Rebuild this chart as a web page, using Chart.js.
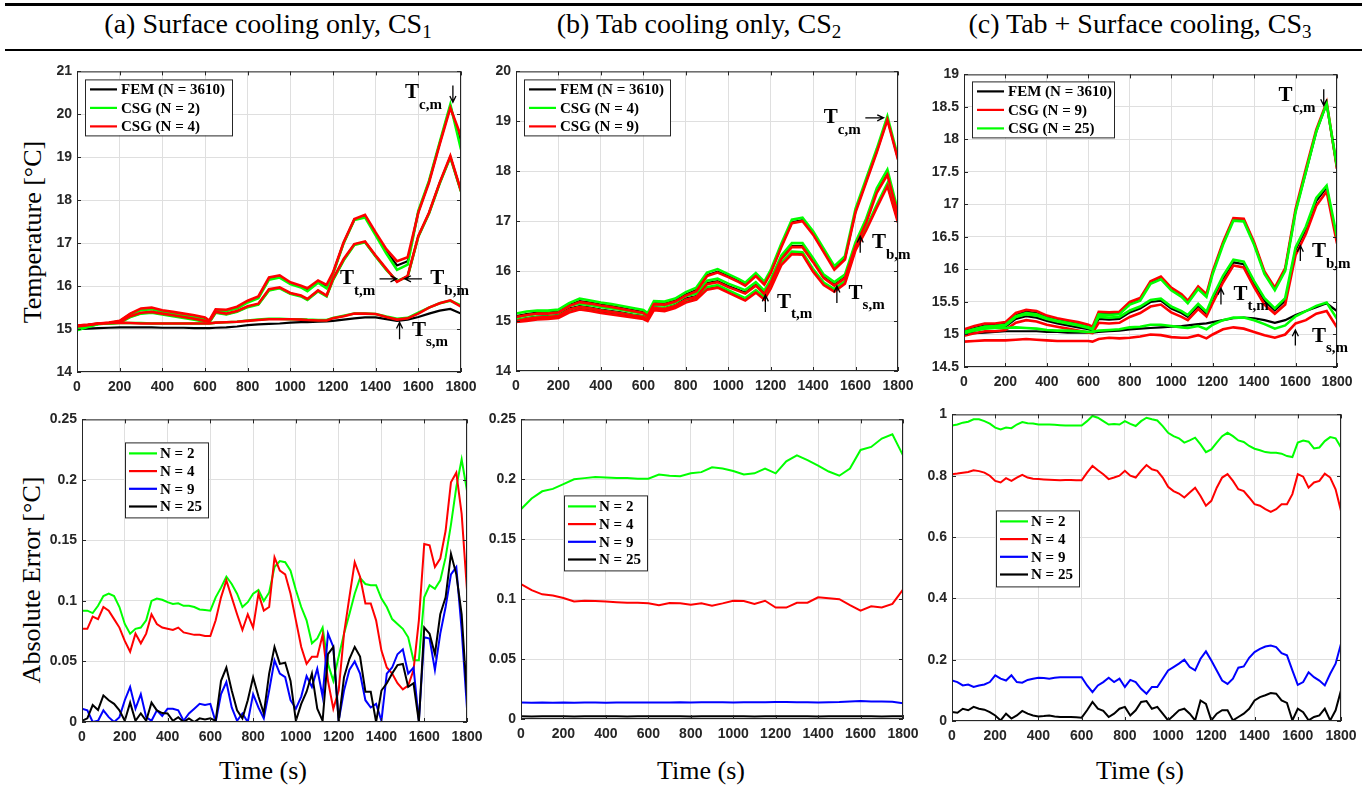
<!DOCTYPE html>
<html lang="en">
<head>
<meta charset="UTF-8">
<title>CSG vs FEM temperatures and absolute error</title>
<script src="https://cdn.jsdelivr.net/npm/chart.js@4.4.1/dist/chart.umd.min.js"></script>
<style>
    body { margin: 0; background: #fff; width: 1367px; height: 790px; position: relative; overflow: hidden;
           font-family: "Liberation Serif", "Times New Roman", serif; color: #000; }
    canvas { position: absolute; }
    .rule { position: absolute; left: 5px; width: 1357px; background: #000; }
    .ttl { position: absolute; top: 10px; font-size: 28px; line-height: 1; white-space: nowrap; transform: translateX(-50%); }
    .ttl span { font-size: 19px; position: relative; top: 5px; }
    .ylab { position: absolute; font-size: 26px; line-height: 1; white-space: nowrap; transform: translate(-50%, -50%) rotate(-90deg); }
    .xlab { position: absolute; top: 758px; font-size: 26px; line-height: 1; white-space: nowrap; transform: translateX(-50%); }
</style>
</head>
<body>
<div class="rule" style="top:3px;height:3px"></div>
<div class="rule" style="top:49px;height:2px"></div>
<div class="ttl" style="left:268px">(a) Surface cooling only, CS<span>1</span></div>
<div class="ttl" style="left:699px">(b) Tab cooling only, CS<span>2</span></div>
<div class="ttl" style="left:1140px">(c) Tab + Surface cooling, CS<span>3</span></div>
<div class="ylab" style="left:33px;top:232px">Temperature [°C]</div>
<div class="ylab" style="left:32px;top:580px">Absolute Error [°C]</div>
<div class="xlab" style="left:263px">Time (s)</div>
<div class="xlab" style="left:701px">Time (s)</div>
<div class="xlab" style="left:1140px">Time (s)</div>

<canvas id="ta"></canvas>
<canvas id="tb"></canvas>
<canvas id="tc"></canvas>
<canvas id="ea"></canvas>
<canvas id="eb"></canvas>
<canvas id="ec"></canvas>

<script>
// ---- time axes (s) ----
const tT = [0, 50, 100, 150, 200, 250, 300, 350, 400, 450, 500, 550, 600, 620, 650, 700, 750, 800, 850, 900,
            950, 1000, 1050, 1080, 1130, 1170, 1200, 1250, 1300, 1350, 1400, 1450, 1500, 1550, 1600, 1650, 1700, 1750, 1800];
const tE = [0, 25, 50, 75, 100, 125, 150, 175, 200, 225, 250, 275, 300, 325, 350, 375, 400, 425, 450, 475,
            500, 525, 550, 575, 600, 625, 650, 675, 700, 725, 750, 775, 800, 825, 850, 875, 900, 925, 950, 975,
            1000, 1025, 1050, 1075, 1100, 1125, 1150, 1175, 1200, 1225, 1250, 1275, 1300, 1325, 1350, 1375,
            1400, 1425, 1450, 1475, 1500, 1525, 1550, 1575, 1600, 1625, 1650, 1675, 1700, 1725, 1750, 1775, 1800];
const tE50 = [0, 50, 100, 150, 200, 250, 300, 350, 400, 450, 500, 550, 600, 650, 700, 750, 800, 850, 900,
              950, 1000, 1050, 1100, 1150, 1200, 1250, 1300, 1350, 1400, 1450, 1500, 1550, 1600, 1650, 1700, 1750, 1800];

// ---- (a) surface cooling, temperatures (°C) ----
const aCoreFem  = [15.04,15.08,15.12,15.14,15.18,15.35,15.46,15.48,15.42,15.38,15.34,15.30,15.25,15.18,15.44,15.43,15.50,15.64,15.74,16.18,16.23,16.07,15.99,15.92,16.10,16.00,16.30,17.01,17.55,17.63,17.22,16.81,16.48,16.58,17.73,18.43,19.32,20.19,19.35];
const aCoreN2   = [15.00,15.06,15.12,15.14,15.18,15.34,15.44,15.46,15.40,15.36,15.32,15.28,15.22,15.17,15.42,15.42,15.48,15.62,15.72,16.15,16.20,16.05,15.97,15.88,16.08,15.95,16.28,17.00,17.54,17.60,17.18,16.76,16.38,16.50,17.75,18.45,19.35,20.23,19.18];
const aCoreN4   = [15.08,15.10,15.13,15.15,15.19,15.36,15.48,15.50,15.44,15.40,15.36,15.32,15.27,15.20,15.46,15.45,15.52,15.66,15.76,16.20,16.25,16.09,16.01,15.95,16.13,16.03,16.32,17.02,17.56,17.66,17.25,16.86,16.58,16.67,17.71,18.41,19.30,20.15,19.49];
const aMidFem   = [15.05,15.09,15.12,15.13,15.15,15.29,15.37,15.39,15.35,15.31,15.27,15.23,15.18,15.16,15.39,15.35,15.41,15.52,15.58,15.91,15.96,15.83,15.77,15.69,15.89,15.77,16.15,16.61,16.97,17.03,16.70,16.39,16.11,16.23,17.16,17.70,18.40,19.01,18.21];
const aMidN2    = [15.03,15.08,15.12,15.13,15.15,15.28,15.36,15.38,15.34,15.30,15.26,15.22,15.17,15.15,15.38,15.34,15.40,15.51,15.57,15.90,15.95,15.82,15.76,15.68,15.88,15.76,16.14,16.60,16.96,17.02,16.69,16.38,16.12,16.22,17.15,17.69,18.39,19.00,18.20];
const aMidN4    = [15.08,15.10,15.13,15.14,15.16,15.30,15.38,15.40,15.36,15.32,15.28,15.24,15.19,15.17,15.40,15.36,15.42,15.53,15.59,15.93,15.97,15.84,15.78,15.70,15.90,15.78,16.17,16.63,16.98,17.04,16.71,16.40,16.10,16.24,17.17,17.71,18.41,19.03,18.22];
const aSurfFem  = [15.00,15.01,15.02,15.03,15.04,15.04,15.04,15.04,15.03,15.03,15.03,15.02,15.02,15.02,15.03,15.04,15.06,15.09,15.11,15.12,15.13,15.15,15.16,15.16,15.17,15.18,15.19,15.22,15.25,15.27,15.27,15.23,15.19,15.22,15.28,15.36,15.43,15.47,15.36];
const aSurfN2   = [14.97,15.05,15.12,15.13,15.14,15.14,15.14,15.13,15.13,15.13,15.13,15.13,15.13,15.13,15.15,15.16,15.17,15.20,15.22,15.24,15.24,15.23,15.23,15.22,15.21,15.21,15.26,15.31,15.36,15.36,15.35,15.29,15.24,15.26,15.38,15.50,15.60,15.66,15.55];
const aSurfN4   = [15.06,15.09,15.13,15.14,15.15,15.14,15.13,15.13,15.13,15.13,15.13,15.13,15.13,15.13,15.15,15.16,15.17,15.19,15.21,15.23,15.23,15.23,15.22,15.21,15.20,15.20,15.25,15.30,15.36,15.36,15.35,15.28,15.22,15.25,15.36,15.50,15.60,15.67,15.52];

// ---- (b) tab cooling, temperatures (°C) ----
const bCoreFem  = [15.10,15.14,15.17,15.17,15.19,15.32,15.40,15.37,15.33,15.30,15.26,15.22,15.18,15.12,15.36,15.35,15.41,15.53,15.62,15.92,15.99,15.90,15.80,15.73,15.92,15.75,15.98,16.50,16.98,17.02,16.75,16.40,16.05,16.25,17.20,17.80,18.40,19.05,18.25];
const bCoreN4   = [15.15,15.19,15.21,15.21,15.23,15.36,15.45,15.41,15.37,15.34,15.30,15.26,15.22,15.16,15.40,15.39,15.45,15.58,15.67,15.97,16.04,15.94,15.84,15.77,15.96,15.79,16.02,16.55,17.03,17.07,16.80,16.45,16.10,16.30,17.25,17.85,18.45,19.10,18.28];
const bCoreN9   = [15.08,15.12,15.15,15.15,15.17,15.30,15.38,15.35,15.31,15.28,15.24,15.20,15.16,15.10,15.34,15.33,15.39,15.51,15.60,15.90,15.97,15.88,15.78,15.71,15.90,15.73,15.96,16.48,16.96,17.00,16.73,16.38,16.03,16.23,17.18,17.78,18.38,19.03,18.23];
const bMidFem   = [15.02,15.06,15.09,15.10,15.12,15.25,15.30,15.27,15.23,15.20,15.17,15.13,15.10,15.06,15.28,15.26,15.32,15.45,15.50,15.76,15.80,15.70,15.62,15.57,15.73,15.56,15.78,16.26,16.50,16.50,16.20,15.88,15.73,15.88,16.52,17.00,17.60,17.96,17.15];
const bMidN4    = [15.07,15.11,15.14,15.15,15.17,15.30,15.35,15.32,15.28,15.25,15.22,15.18,15.15,15.11,15.33,15.31,15.37,15.50,15.55,15.81,15.85,15.75,15.67,15.62,15.78,15.61,15.83,16.31,16.56,16.56,16.26,15.93,15.78,15.93,16.58,17.05,17.66,18.03,17.20];
const bMidN9    = [15.00,15.04,15.07,15.08,15.10,15.23,15.28,15.25,15.21,15.18,15.15,15.11,15.08,15.04,15.26,15.24,15.30,15.43,15.48,15.74,15.78,15.68,15.60,15.55,15.71,15.54,15.76,16.24,16.48,16.48,16.18,15.86,15.71,15.86,16.50,16.97,17.57,17.93,17.12];
const bLowFem   = [15.00,15.03,15.06,15.07,15.09,15.20,15.26,15.23,15.19,15.16,15.13,15.10,15.07,15.03,15.25,15.23,15.29,15.40,15.46,15.66,15.70,15.60,15.50,15.44,15.60,15.46,15.68,16.15,16.37,16.36,16.02,15.75,15.62,15.78,16.45,16.85,17.30,17.73,17.00];
const bLowN4    = [15.02,15.05,15.08,15.09,15.11,15.22,15.28,15.25,15.21,15.18,15.15,15.12,15.09,15.05,15.27,15.25,15.31,15.42,15.48,15.68,15.72,15.62,15.52,15.46,15.62,15.48,15.70,16.17,16.39,16.38,16.04,15.77,15.64,15.80,16.47,16.87,17.33,17.76,17.03];
const bLowN9    = [14.98,15.00,15.03,15.04,15.06,15.17,15.23,15.20,15.16,15.13,15.10,15.07,15.04,15.00,15.22,15.20,15.26,15.37,15.43,15.63,15.67,15.57,15.47,15.41,15.57,15.43,15.65,16.12,16.34,16.33,15.99,15.72,15.59,15.75,16.42,16.82,17.27,17.70,16.97];

// ---- (c) tab + surface cooling, temperatures (°C) ----
const cCoreFem  = [15.05,15.10,15.14,15.15,15.17,15.30,15.35,15.33,15.27,15.23,15.20,15.17,15.13,15.10,15.33,15.32,15.33,15.48,15.54,15.80,15.87,15.70,15.60,15.50,15.72,15.60,15.95,16.40,16.77,16.76,16.40,15.95,15.70,16.00,16.90,17.50,18.12,18.55,17.55];
const cCoreN9   = [15.08,15.13,15.17,15.17,15.19,15.33,15.38,15.36,15.29,15.25,15.22,15.19,15.15,15.12,15.35,15.34,15.35,15.50,15.56,15.82,15.89,15.72,15.62,15.52,15.74,15.62,15.97,16.42,16.79,16.78,16.42,15.97,15.72,16.02,16.93,17.55,18.15,18.57,17.55];
const cCoreN25  = [15.03,15.08,15.12,15.13,15.15,15.28,15.33,15.31,15.25,15.21,15.18,15.15,15.11,15.08,15.31,15.30,15.31,15.46,15.52,15.78,15.85,15.68,15.58,15.48,15.70,15.58,15.93,16.38,16.75,16.74,16.38,15.93,15.68,15.98,16.88,17.50,18.12,18.55,17.58];
const cMidFem   = [15.02,15.06,15.10,15.10,15.12,15.24,15.28,15.26,15.21,15.17,15.14,15.11,15.08,15.06,15.24,15.23,15.24,15.34,15.40,15.50,15.52,15.40,15.33,15.27,15.44,15.32,15.55,15.86,16.11,16.08,15.78,15.52,15.37,15.52,16.30,16.62,17.05,17.26,16.45];
const cMidN9    = [14.98,15.02,15.05,15.05,15.07,15.18,15.22,15.20,15.15,15.12,15.09,15.06,15.03,15.02,15.18,15.17,15.18,15.27,15.33,15.43,15.46,15.34,15.27,15.22,15.39,15.28,15.48,15.80,16.06,16.03,15.73,15.46,15.32,15.46,16.22,16.55,16.98,17.20,16.40];
const cMidN25   = [15.04,15.08,15.12,15.12,15.14,15.27,15.31,15.29,15.24,15.20,15.17,15.14,15.10,15.08,15.27,15.26,15.27,15.37,15.43,15.53,15.55,15.43,15.36,15.30,15.47,15.35,15.58,15.90,16.15,16.12,15.82,15.56,15.40,15.56,16.34,16.66,17.10,17.29,16.50];
const cSurfFem  = [15.02,15.02,15.03,15.04,15.05,15.05,15.05,15.05,15.04,15.04,15.03,15.03,15.03,15.03,15.04,15.05,15.06,15.08,15.09,15.10,15.11,15.12,15.13,15.14,15.16,15.17,15.19,15.22,15.25,15.26,15.25,15.22,15.18,15.22,15.30,15.36,15.42,15.48,15.36];
const cSurfN9   = [14.89,14.90,14.91,14.91,14.91,14.92,14.93,14.92,14.91,14.90,14.90,14.90,14.90,14.89,14.93,14.95,14.94,14.95,14.97,15.00,14.99,14.96,14.95,14.95,14.99,14.94,15.00,15.08,15.11,15.09,15.04,14.99,14.95,15.00,15.17,15.22,15.32,15.36,15.11];
const cSurfN25  = [15.02,15.06,15.09,15.10,15.10,15.11,15.10,15.09,15.07,15.06,15.06,15.05,15.04,15.04,15.06,15.07,15.08,15.11,15.12,15.15,15.15,15.13,15.11,15.10,15.13,15.08,15.15,15.22,15.26,15.26,15.22,15.16,15.09,15.14,15.28,15.36,15.44,15.49,15.24];

// ---- absolute errors (°C) ----
const eaN2  = [0.092,0.092,0.090,0.096,0.104,0.106,0.104,0.095, 0.081,0.073,0.077,0.078,0.084,0.100,0.102,0.101, 0.099,0.0975,0.098,0.096,0.096,0.095,0.093,0.0925, 0.092,0.103,0.111,0.120,0.114,0.106,0.095,0.099, 0.106,0.109,0.100,0.107,0.128,0.133,0.132,0.125, 0.109,0.095,0.084,0.065,0.069,0.078,0.048,0.034, 0.054,0.073,0.089,0.106,0.119,0.114,0.113,0.113, 0.102,0.095,0.085,0.081,0.077,0.070,0.051,0.051, 0.103,0.113,0.110,0.117,0.136,0.163,0.194,0.217, 0.191];
const eaN4  = [0.077,0.077,0.087,0.085,0.095,0.092,0.085,0.078, 0.067,0.058,0.073,0.065,0.073,0.089,0.081,0.078, 0.077,0.076,0.078,0.074,0.073,0.072,0.072,0.071, 0.071,0.084,0.103,0.117,0.103,0.089,0.076,0.089, 0.078,0.106,0.092,0.095,0.136,0.125,0.122,0.106, 0.084,0.062,0.048,0.054,0.054,0.072,0.034,0.011, 0.026,0.073,0.103,0.132,0.120,0.098,0.098,0.084, 0.059,0.045,0.040,0.032,0.027,0.030,0.043,0.084, 0.147,0.146,0.128,0.135,0.158,0.198,0.206,0.172, 0.109];
const eaN9  = [0.011,0.0096,0.000,0.001,0.0096,0.004,0.000,0.004, 0.018,0.029,0.011,0.023,0.004,0.001,0.0096,0.005, 0.011,0.011,0.0096,0.001,0.007,0.011,0.015,0.014, 0.015,0.000,0.023,0.033,0.012,0.001,0.007,0.000, 0.023,0.012,0.003,0.026,0.051,0.040,0.037,0.018, 0.011,0.021,0.038,0.029,0.044,0.021,0.073,0.062, 0.001,0.026,0.043,0.050,0.040,0.018,0.012,0.015, 0.001,0.040,0.045,0.056,0.060,0.040,0.045,0.001, 0.070,0.069,0.043,0.073,0.095,0.122,0.128,0.076, 0.011];
const eaN25 = [0.001,0.003,0.014,0.010,0.022,0.018,0.015,0.0096, 0.001,0.016,0.001,0.007,0.001,0.016,0.0096,0.0074, 0.007,0.001,0.004,0.000,0.003,0.000,0.003,0.002, 0.003,0.001,0.034,0.045,0.026,0.0096,0.003,0.018, 0.037,0.021,0.007,0.040,0.062,0.048,0.049,0.034, 0.001,0.015,0.025,0.040,0.011,0.001,0.056,0.062, 0.000,0.037,0.052,0.062,0.054,0.025,0.025,0.000, 0.026,0.032,0.040,0.047,0.048,0.029,0.032,0.000, 0.078,0.073,0.056,0.089,0.103,0.139,0.122,0.089, 0.021];

const ebN2  = [0.175,0.184,0.190,0.192,0.196,0.200,0.201,0.202,0.2015,0.201,0.201,0.2005,0.2005,0.204,0.203,0.2025,0.205,0.206,0.210,0.209,0.207,0.204,0.205,0.209,0.205,0.215,0.220,0.216,0.2115,0.2065,0.203,0.209,0.2245,0.227,0.234,0.2375,0.220];
const ebN4  = [0.1125,0.1075,0.104,0.103,0.101,0.098,0.0987,0.0985,0.098,0.0975,0.097,0.097,0.0965,0.095,0.0968,0.0965,0.0954,0.0965,0.0946,0.0965,0.0987,0.0985,0.096,0.0987,0.093,0.093,0.097,0.097,0.1015,0.1008,0.100,0.095,0.0904,0.094,0.093,0.096,0.108];
const ebN9  = [0.0138,0.0135,0.0137,0.0136,0.0138,0.0136,0.0137,0.0138,0.0136,0.0137,0.0138,0.0137,0.0138,0.0137,0.0138,0.0139,0.0138,0.0139,0.0140,0.0139,0.0138,0.0139,0.0140,0.0139,0.0141,0.0142,0.0140,0.0139,0.0138,0.0139,0.0141,0.0145,0.0150,0.0145,0.0146,0.0144,0.0132];
const ebN25 = [0.0022,0.0021,0.0023,0.0022,0.0022,0.0021,0.0022,0.0023,0.0022,0.0022,0.0021,0.0022,0.0022,0.0023,0.0022,0.0022,0.0021,0.0022,0.0022,0.0023,0.0022,0.0022,0.0021,0.0022,0.0022,0.0023,0.0022,0.0022,0.0021,0.0022,0.0022,0.0023,0.0022,0.0022,0.0021,0.0022,0.0022];

const ecN2  = [0.964,0.967,0.973,0.976,0.984,0.984,0.978,0.970, 0.957,0.951,0.957,0.955,0.967,0.975,0.971,0.970, 0.967,0.967,0.967,0.966,0.965,0.964,0.964,0.964, 0.964,0.978,0.995,0.989,0.978,0.967,0.969,0.967, 0.978,0.969,0.962,0.978,0.989,0.984,0.980,0.962, 0.940,0.929,0.922,0.908,0.915,0.924,0.902,0.877, 0.886,0.908,0.929,0.940,0.929,0.915,0.910,0.897, 0.888,0.883,0.877,0.875,0.875,0.872,0.864,0.861, 0.908,0.915,0.911,0.889,0.892,0.913,0.926,0.922, 0.892];
const ecN4  = [0.805,0.807,0.810,0.812,0.818,0.815,0.810,0.800, 0.783,0.778,0.792,0.783,0.794,0.803,0.794,0.790, 0.789,0.788,0.787,0.786,0.785,0.786,0.786,0.785, 0.785,0.810,0.832,0.818,0.805,0.789,0.794,0.800, 0.816,0.800,0.794,0.816,0.835,0.821,0.816,0.794, 0.764,0.750,0.742,0.729,0.745,0.761,0.734,0.702, 0.718,0.761,0.794,0.805,0.783,0.756,0.750,0.729, 0.707,0.702,0.691,0.682,0.691,0.707,0.707,0.740, 0.805,0.797,0.761,0.778,0.783,0.807,0.794,0.756, 0.685];
const ecN9  = [0.132,0.127,0.116,0.119,0.111,0.116,0.119,0.127, 0.149,0.138,0.132,0.149,0.127,0.125,0.134,0.138, 0.141,0.140,0.138,0.141,0.143,0.143,0.143,0.143, 0.143,0.116,0.094,0.116,0.127,0.141,0.127,0.138, 0.111,0.134,0.127,0.105,0.089,0.111,0.111,0.138, 0.165,0.176,0.187,0.200,0.176,0.165,0.203,0.227, 0.197,0.165,0.132,0.121,0.138,0.174,0.178,0.206, 0.225,0.235,0.243,0.246,0.241,0.221,0.214,0.165, 0.118,0.127,0.159,0.143,0.132,0.116,0.154,0.187, 0.252];
const ecN25 = [0.029,0.027,0.040,0.035,0.046,0.040,0.037,0.029, 0.018,0.002,0.024,0.008,0.018,0.033,0.024,0.018, 0.015,0.016,0.018,0.015,0.013,0.013,0.013,0.012, 0.011,0.035,0.062,0.040,0.033,0.013,0.024,0.040, 0.046,0.018,0.035,0.062,0.065,0.040,0.046,0.024, 0.002,0.018,0.035,0.040,0.024,0.002,0.067,0.056, 0.002,0.024,0.035,0.035,0.002,0.013,0.024,0.040, 0.067,0.078,0.084,0.091,0.089,0.067,0.059,0.002, 0.040,0.029,0.002,0.013,0.018,0.040,0.002,0.035, 0.100];

// ---- legend texts ----
const legA = ['FEM (N = 3610)', 'CSG (N = 2)', 'CSG (N = 4)'];
const legB = ['FEM (N = 3610)', 'CSG (N = 4)', 'CSG (N = 9)'];
const legC = ['FEM (N = 3610)', 'CSG (N = 9)', 'CSG (N = 25)'];
const legE = ['N = 2', 'N = 4', 'N = 9', 'N = 25'];

const GREEN = '#00ff00', RED = '#ff0000', BLUE = '#0000ff', BLACK = '#000000';
const XH = 30, YW = 60, PT = 12, PR = 24;

function pts(ts, vs) { return ts.map((t, i) => ({ x: t, y: vs[i] })); }
function line(ts, vs, color, w, order) {
    return { data: pts(ts, vs), borderColor: color, borderWidth: w, pointRadius: 0, tension: 0, fill: false, order: order };
}

// box around the axes with inward ticks, like the original
const frame = {
    id: 'frame',
    afterDatasetsDraw(chart) {
        const { ctx, chartArea: a, scales: { x, y } } = chart;
        ctx.save();
        ctx.strokeStyle = '#262626';
        ctx.lineWidth = 1;
        ctx.strokeRect(a.left + 0.5, a.top + 0.5, a.right - a.left - 1, a.bottom - a.top - 1);
        ctx.beginPath();
        x.ticks.forEach(t => {
            const p = Math.round(x.getPixelForValue(t.value)) + 0.5;
            ctx.moveTo(p, a.bottom); ctx.lineTo(p, a.bottom - 4);
            ctx.moveTo(p, a.top); ctx.lineTo(p, a.top + 4);
        });
        y.ticks.forEach(t => {
            const p = Math.round(y.getPixelForValue(t.value)) + 0.5;
            ctx.moveTo(a.left, p); ctx.lineTo(a.left + 4, p);
            ctx.moveTo(a.right, p); ctx.lineTo(a.right - 4, p);
        });
        ctx.stroke();
        ctx.restore();
    }
};

// T_x,m labels with arrows, placed in data coordinates
const marks = {
    id: 'marks',
    afterDraw(chart, args, opts) {
        const { ctx, scales: { x, y } } = chart;
        (opts.items || []).forEach(m => {
            const px = x.getPixelForValue(m.t), py = y.getPixelForValue(m.v);
            ctx.save();
            ctx.fillStyle = '#000';
            ctx.textBaseline = 'middle';
            ctx.font = 'bold 21px "Liberation Serif"';
            ctx.fillText('T', px, py);
            const w = ctx.measureText('T').width;
            ctx.font = 'bold 15px "Liberation Serif"';
            ctx.fillText(m.sub, px + w, py + 12);
            const x1 = x.getPixelForValue(m.a[0]), y1 = y.getPixelForValue(m.a[1]);
            const x2 = x.getPixelForValue(m.a[2]), y2 = y.getPixelForValue(m.a[3]);
            const ang = Math.atan2(y2 - y1, x2 - x1);
            ctx.strokeStyle = '#000';
            ctx.lineWidth = 1.3;
            ctx.beginPath();
            ctx.moveTo(x1, y1); ctx.lineTo(x2, y2);
            ctx.moveTo(x2 - 7 * Math.cos(ang - 0.45), y2 - 7 * Math.sin(ang - 0.45));
            ctx.lineTo(x2, y2);
            ctx.lineTo(x2 - 7 * Math.cos(ang + 0.45), y2 - 7 * Math.sin(ang + 0.45));
            ctx.stroke();
            ctx.restore();
        });
    }
};

// boxed legend inside the axes
const box = {
    id: 'box',
    afterDraw(chart, args, o) {
        const { ctx, chartArea: a } = chart;
        const bx = a.left + o.x, by = a.top + o.y;
        ctx.save();
        ctx.fillStyle = '#fff';
        ctx.fillRect(bx, by, o.w, o.h);
        ctx.strokeStyle = '#262626';
        ctx.lineWidth = 1;
        ctx.strokeRect(bx + 0.5, by + 0.5, o.w, o.h);
        ctx.font = 'bold 15px "Liberation Serif"';
        ctx.textBaseline = 'middle';
        o.labels.forEach((lab, i) => {
            const yy = by + o.r0 + i * o.dy;
            ctx.strokeStyle = o.colors[i];
            ctx.lineWidth = 2.2;
            ctx.beginPath(); ctx.moveTo(bx + o.l0, yy); ctx.lineTo(bx + o.l1, yy); ctx.stroke();
            ctx.fillStyle = '#000';
            ctx.fillText(lab, bx + o.tx, yy + 1);
        });
        ctx.restore();
    }
};

const tickFont = { family: '"Liberation Sans", Arial, sans-serif', weight: 'bold', size: 14 };
const fmt = v => String(+Number(v).toFixed(3));

function makeChart(id, g, ymin, ymax, ystep, datasets, legend, items) {
    const c = document.getElementById(id);
    c.width = g[2] - g[0] + YW + PR;
    c.height = g[3] - g[1] + PT + XH;
    c.style.left = (g[0] - YW) + 'px';
    c.style.top = (g[1] - PT) + 'px';
    return new Chart(c, {
        type: 'line',
        data: { datasets: datasets },
        options: {
            responsive: false, animation: false, devicePixelRatio: 1, events: [],
            layout: { padding: { top: PT, right: PR, left: 0, bottom: 0 } },
            scales: {
                x: {
                    type: 'linear', min: 0, max: 1800,
                    ticks: { stepSize: 200, padding: 7, font: tickFont, color: '#262626', maxRotation: 0, autoSkip: false, callback: fmt },
                    grid: { color: '#dfdfdf', drawTicks: false },
                    border: { display: false },
                    afterFit: s => { s.height = XH; }
                },
                y: {
                    min: ymin, max: ymax,
                    ticks: { stepSize: ystep, padding: 5, font: tickFont, color: '#262626', autoSkip: false, callback: fmt },
                    grid: { color: '#dfdfdf', drawTicks: false },
                    border: { display: false },
                    afterFit: s => { s.width = YW; }
                }
            },
            plugins: { legend: { display: false }, tooltip: { enabled: false }, box: legend, marks: { items: items } }
        },
        plugins: [frame, marks, box]
    });
}

const TW = 2.6, FW = 2.2, EW = 2;
const topLeg = { x: 8, y: 8, w: 147, h: 56, r0: 10, dy: 18.5, l0: 5, l1: 32, tx: 36 };

makeChart('ta', [77, 70, 461, 372], 14, 21, 1, [
    line(tT, aCoreFem, BLACK, FW, 3), line(tT, aCoreN2, GREEN, TW, 2), line(tT, aCoreN4, RED, TW, 1),
    line(tT, aMidFem, BLACK, FW, 3), line(tT, aMidN2, GREEN, TW, 2), line(tT, aMidN4, RED, TW, 1),
    line(tT, aSurfFem, BLACK, FW, 3), line(tT, aSurfN2, GREEN, TW, 2), line(tT, aSurfN4, RED, TW, 1)
], Object.assign({}, topLeg, { labels: legA, colors: [BLACK, GREEN, RED] }), [
    { t: 1538, v: 20.5, sub: 'c,m', a: [1762, 20.67, 1762, 20.28] },
    { t: 1233, v: 16.17, sub: 't,m', a: [1418, 16.17, 1499, 16.17] },
    { t: 1656, v: 16.17, sub: 'b,m', a: [1617, 16.17, 1536, 16.17] },
    { t: 1570, v: 14.97, sub: 's,m', a: [1512, 14.76, 1512, 15.16] }
]);

makeChart('tb', [516, 70, 898, 371], 14, 20, 1, [
    line(tT, bCoreFem, BLACK, FW, 3), line(tT, bCoreN4, GREEN, TW, 2), line(tT, bCoreN9, RED, TW, 1),
    line(tT, bMidFem, BLACK, FW, 3), line(tT, bMidN4, GREEN, TW, 2), line(tT, bMidN9, RED, TW, 1),
    line(tT, bLowFem, BLACK, FW, 3), line(tT, bLowN4, GREEN, TW, 2), line(tT, bLowN9, RED, TW, 1)
], Object.assign({}, topLeg, { w: 146, labels: legB, colors: [BLACK, GREEN, RED] }), [
    { t: 1450, v: 19.07, sub: 'c,m', a: [1646, 19.07, 1732, 19.07] },
    { t: 1230, v: 15.38, sub: 't,m', a: [1175, 15.18, 1175, 15.52] },
    { t: 1567, v: 15.56, sub: 's,m', a: [1512, 15.36, 1512, 15.7] },
    { t: 1677, v: 16.57, sub: 'b,m', a: [1622, 16.37, 1622, 16.7] }
]);

makeChart('tc', [964, 73, 1337, 367], 14.5, 19, 0.5, [
    line(tT, cCoreFem, BLACK, FW, 3), line(tT, cCoreN9, RED, TW, 2), line(tT, cCoreN25, GREEN, TW, 1),
    line(tT, cMidFem, BLACK, FW, 3), line(tT, cMidN9, RED, TW, 2), line(tT, cMidN25, GREEN, TW, 1),
    line(tT, cSurfFem, BLACK, FW, 3), line(tT, cSurfN9, RED, TW, 2), line(tT, cSurfN25, GREEN, TW, 1)
], Object.assign({}, topLeg, { y: 7, w: 142, labels: legC, colors: [BLACK, RED, GREEN] }), [
    { t: 1518, v: 18.67, sub: 'c,m', a: [1736, 18.77, 1736, 18.52] },
    { t: 1679, v: 16.27, sub: 'b,m', a: [1623, 16.13, 1623, 16.37] },
    { t: 1301, v: 15.62, sub: 't,m', a: [1240, 15.46, 1240, 15.71] },
    { t: 1679, v: 14.97, sub: 's,m', a: [1599, 14.83, 1599, 15.07] }
]);

const errLeg = { w: 83, h: 75, r0: 11, dy: 17.7, l0: 4, l1: 32, tx: 35, labels: legE, colors: [GREEN, RED, BLUE, BLACK] };

makeChart('ea', [82, 418, 467, 722], 0, 0.25, 0.05, [
    line(tE, eaN2, GREEN, EW, 4), line(tE, eaN4, RED, EW, 3), line(tE, eaN9, BLUE, EW, 2), line(tE, eaN25, BLACK, EW, 1)
], Object.assign({}, errLeg, { x: 43, y: 23 }), []);

makeChart('eb', [521, 418, 903, 719], 0, 0.25, 0.05, [
    line(tE50, ebN2, GREEN, EW, 4), line(tE50, ebN4, RED, EW, 3), line(tE50, ebN9, BLUE, EW, 2), line(tE50, ebN25, BLACK, EW, 1)
], Object.assign({}, errLeg, { x: 43, y: 76 }), []);

makeChart('ec', [952, 413, 1341, 721], 0, 1, 0.2, [
    line(tE, ecN2, GREEN, EW, 4), line(tE, ecN4, RED, EW, 3), line(tE, ecN9, BLUE, EW, 2), line(tE, ecN25, BLACK, EW, 1)
], Object.assign({}, errLeg, { x: 44, y: 96, h: 76 }), []);
</script>
</body>
</html>
